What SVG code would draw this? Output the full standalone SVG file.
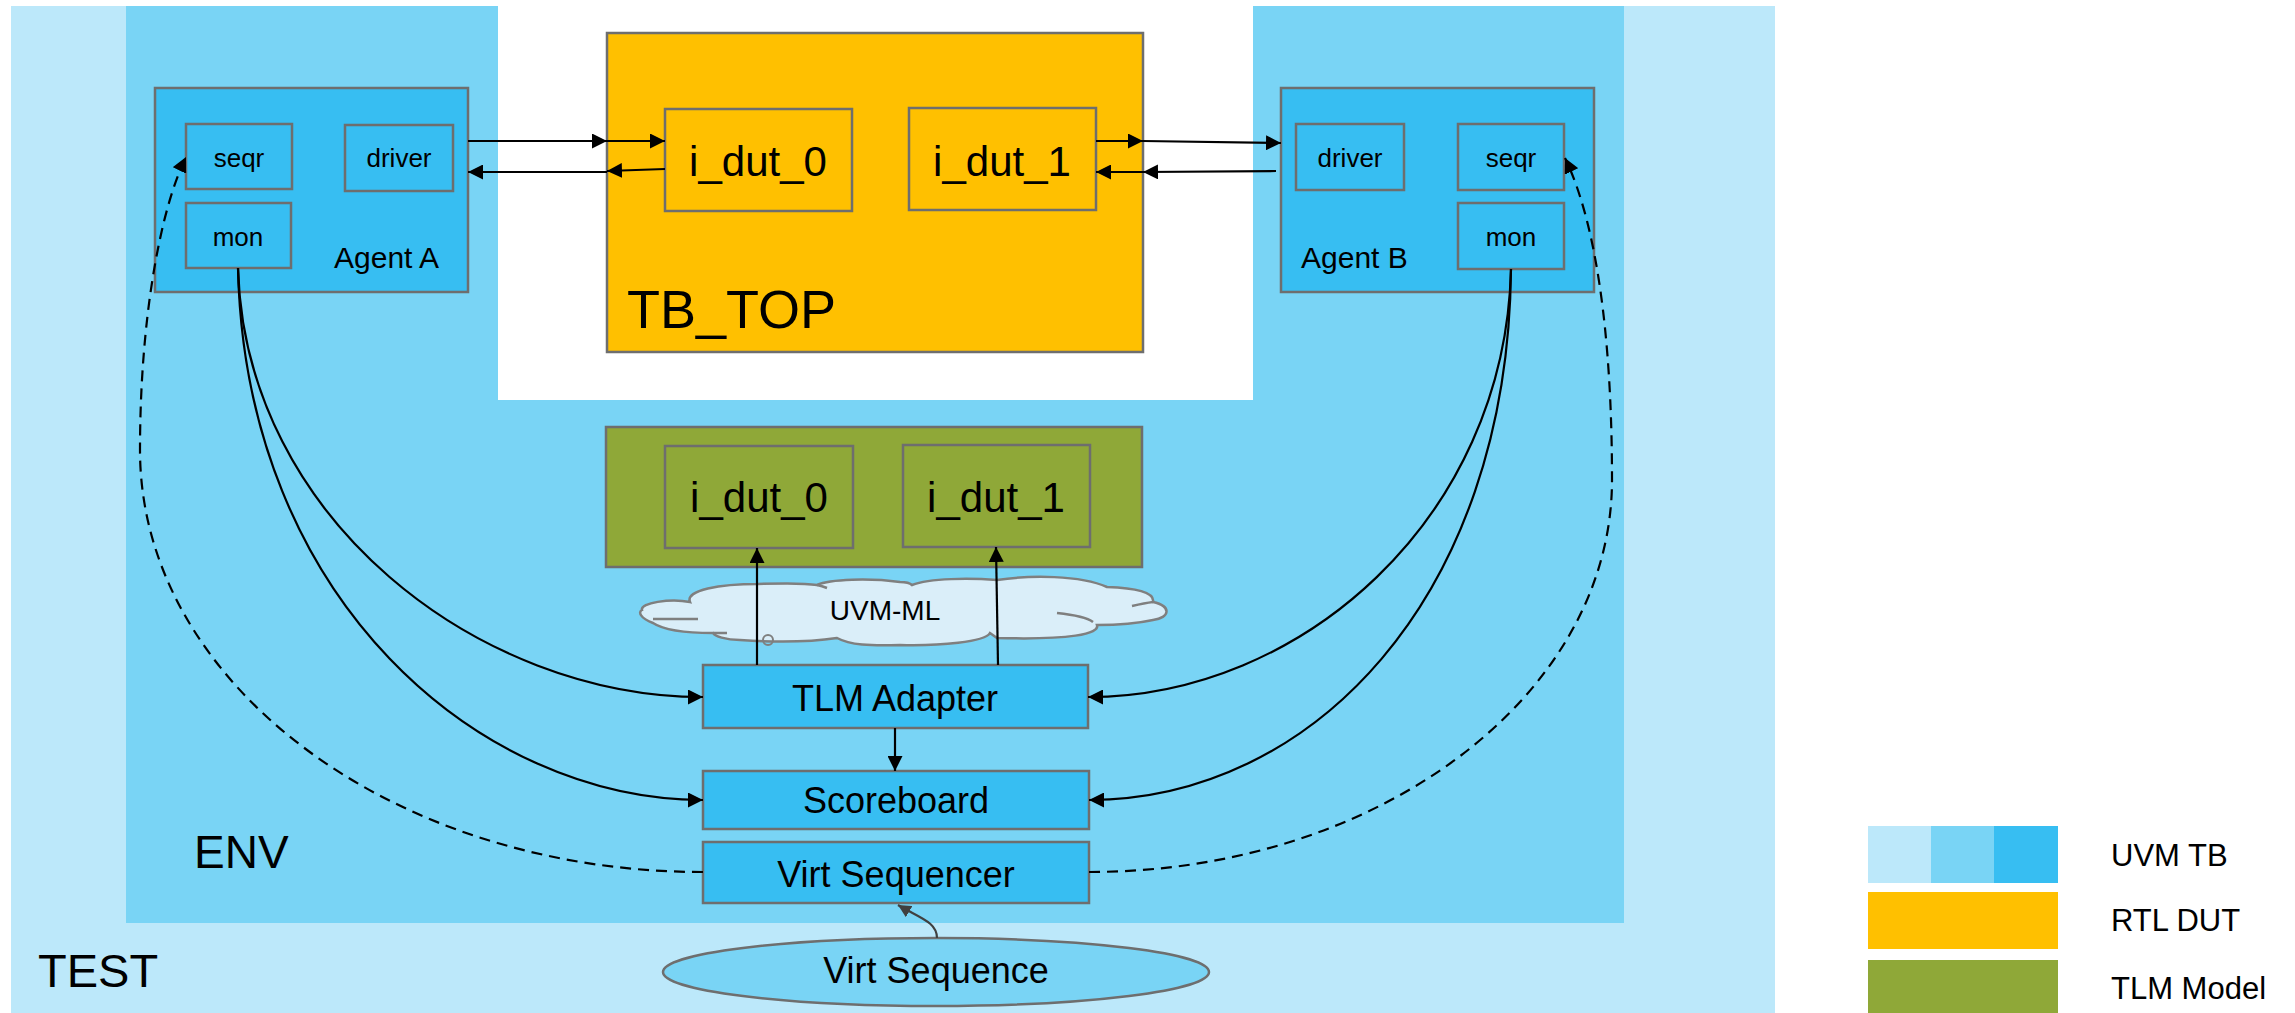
<svg xmlns="http://www.w3.org/2000/svg" width="2295" height="1013" viewBox="0 0 2295 1013">
<style>
text{font-family:"Liberation Sans",Arial,sans-serif;fill:#000}
.box{stroke:#6e6e6e;stroke-width:2.5}
.uvm{fill:#37bef2}
.rtl{fill:#ffc000}
.tlm{fill:#8fa838}
.c{fill:none;stroke:#000;stroke-width:2.2}
.d{fill:none;stroke:#000;stroke-width:2.2;stroke-dasharray:11 7}
.m{text-anchor:middle}
.cl{fill:none;stroke:#7f7f7f;stroke-width:2.5}
</style>
<defs>
<marker id="ah" viewBox="0 0 10 10" refX="10" refY="5" markerWidth="15" markerHeight="15" markerUnits="userSpaceOnUse" orient="auto"><path d="M0,0 L10,5 L0,10 z" fill="#000"/></marker>
<marker id="ahg" viewBox="0 0 10 10" refX="10" refY="5" markerWidth="13" markerHeight="13" markerUnits="userSpaceOnUse" orient="auto"><path d="M0,0 L10,5 L0,10 z" fill="#404040"/></marker>
</defs>
<rect width="2295" height="1013" fill="#fff"/>
<g id="test"><rect x="11" y="6" width="1764" height="1007" fill="#bce8fa"/><text x="38" y="987" font-size="47">TEST</text></g>
<g id="env"><rect x="126" y="6" width="1498" height="917" fill="#79d4f5"/><rect x="498" y="6" width="755" height="394" fill="#fff"/><text x="194" y="868" font-size="46">ENV</text></g>
<g id="tb_top"><rect class="box rtl" x="607" y="33" width="536" height="319"/><text x="627" y="328" font-size="54">TB_TOP</text></g>
<g id="rtl_i_dut_0"><rect class="box rtl" x="665" y="109" width="187" height="102"/><text class="m" x="758" y="176" font-size="42">i_dut_0</text></g>
<g id="rtl_i_dut_1"><rect class="box rtl" x="909" y="108" width="187" height="102"/><text class="m" x="1002" y="176" font-size="42">i_dut_1</text></g>
<g id="agent_a"><rect class="box uvm" x="155" y="88" width="313" height="204"/><text x="334" y="268" font-size="30">Agent A</text></g>
<g id="agent_a_seqr"><rect class="box uvm" x="186" y="124" width="106" height="65"/><text class="m" x="239" y="167" font-size="26">seqr</text></g>
<g id="agent_a_driver"><rect class="box uvm" x="345" y="125" width="108" height="66"/><text class="m" x="399" y="167" font-size="26">driver</text></g>
<g id="agent_a_mon"><rect class="box uvm" x="186" y="203" width="105" height="65"/><text class="m" x="238" y="246" font-size="26">mon</text></g>
<g id="agent_b"><rect class="box uvm" x="1281" y="88" width="313" height="204"/><text x="1301" y="268" font-size="30">Agent B</text></g>
<g id="agent_b_driver"><rect class="box uvm" x="1296" y="124" width="108" height="66"/><text class="m" x="1350" y="167" font-size="26">driver</text></g>
<g id="agent_b_seqr"><rect class="box uvm" x="1458" y="124" width="106" height="66"/><text class="m" x="1511" y="167" font-size="26">seqr</text></g>
<g id="agent_b_mon"><rect class="box uvm" x="1458" y="203" width="106" height="66"/><text class="m" x="1511" y="246" font-size="26">mon</text></g>
<g id="tlm_model"><rect class="box tlm" x="606" y="427" width="536" height="140"/></g>
<g id="tlm_i_dut_0"><rect class="box tlm" x="665" y="446" width="188" height="102"/><text class="m" x="759" y="512" font-size="42">i_dut_0</text></g>
<g id="tlm_i_dut_1"><rect class="box tlm" x="903" y="445" width="187" height="102"/><text class="m" x="996" y="512" font-size="42">i_dut_1</text></g>
<g id="uvm_ml">
<path d="M642,610 C640,603 670,598 690,602 C685,590 720,584 758,584 C785,583 805,583 817,585 C830,579 870,578 900,582 C905,582 910,583 912,585 C930,578 970,578 997,580 C1030,575 1080,575 1107,587 C1135,588 1155,592 1153,602 C1172,606 1170,618 1153,620 C1135,624 1110,625 1097,625 C1100,634 1070,640 997,638 L990,633 C985,642 940,646 900,645 C870,646 850,645 837,638 C810,642 770,642 740,640 C725,640 715,636 713,633 C690,633 665,631 653,623 C640,618 638,612 642,610 Z" fill="#daeef9" stroke="#7f7f7f" stroke-width="2.5"/>
<path class="cl" d="M653,619 L698,619 M817,585 Q822,586 827,588 M713,633 Q720,633 727,633 M1057,613 Q1085,616 1093,622 M1132,606 Q1145,603 1153,602"/>
<circle cx="768" cy="640" r="5" fill="none" stroke="#7f7f7f" stroke-width="2"/>
<text class="m" x="885" y="620" font-size="28">UVM-ML</text>
</g>
<g id="tlm_adapter"><rect class="box uvm" x="703" y="665" width="385" height="63"/><text class="m" x="895" y="711" font-size="36">TLM Adapter</text></g>
<g id="scoreboard"><rect class="box uvm" x="703" y="771" width="386" height="58"/><text class="m" x="896" y="813" font-size="36">Scoreboard</text></g>
<g id="virt_sequencer"><rect class="box uvm" x="703" y="842" width="386" height="61"/><text class="m" x="896" y="887" font-size="36">Virt Sequencer</text></g>
<g id="virt_sequence"><ellipse class="box" cx="936" cy="972" rx="273" ry="34" fill="#79d4f5"/><text class="m" x="936" y="983" font-size="36">Virt Sequence</text></g>
<g id="connectors">
<path class="c" d="M468,141 L607,141" marker-end="url(#ah)"/>
<path class="c" d="M607,141 L665,141" marker-end="url(#ah)"/>
<path class="c" d="M665,169 L607,171" marker-end="url(#ah)"/>
<path class="c" d="M607,172 L468,172" marker-end="url(#ah)"/>
<path class="c" d="M1096,141 L1143,141" marker-end="url(#ah)"/>
<path class="c" d="M1143,141 L1281,143" marker-end="url(#ah)"/>
<path class="c" d="M1276,171 L1143,172" marker-end="url(#ah)"/>
<path class="c" d="M1143,172 L1096,172" marker-end="url(#ah)"/>
<path class="c" d="M757,665 L757,548" marker-end="url(#ah)"/>
<path class="c" d="M998,665 L996,547" marker-end="url(#ah)"/>
<path class="c" d="M895,728 L895,771" marker-end="url(#ah)"/>
<path class="c" d="M238,268 C245,520 480,697 703,697" marker-end="url(#ah)"/>
<path class="c" d="M238,268 C245,600 480,800 703,800" marker-end="url(#ah)"/>
<path class="c" d="M1511,269 C1505,520 1300,697 1088,697" marker-end="url(#ah)"/>
<path class="c" d="M1511,269 C1508,600 1310,800 1089,800" marker-end="url(#ah)"/>
<path class="d" d="M703,872 C392,872 140,683 140,450 C140,320 160,210 186,157" marker-end="url(#ah)"/>
<path class="d" d="M1089,872 C1378,872 1612,696 1612,480 C1612,330 1595,220 1565,158" marker-end="url(#ah)"/>
<path d="M937,938 C937,922 920,918 898,905" fill="none" stroke="#404040" stroke-width="2.2" marker-end="url(#ahg)"/>
</g>
<g id="legend">
<rect x="1868" y="826" width="63" height="57" fill="#bce8fa"/>
<rect x="1931" y="826" width="63" height="57" fill="#79d4f5"/>
<rect x="1994" y="826" width="64" height="57" fill="#37bef2"/>
<rect x="1868" y="892" width="190" height="57" fill="#ffc000"/>
<rect x="1868" y="960" width="190" height="53" fill="#8fa838"/>
<text x="2111" y="866" font-size="31">UVM TB</text>
<text x="2111" y="931" font-size="31">RTL DUT</text>
<text x="2111" y="999" font-size="31">TLM Model</text>
</g>
</svg>
